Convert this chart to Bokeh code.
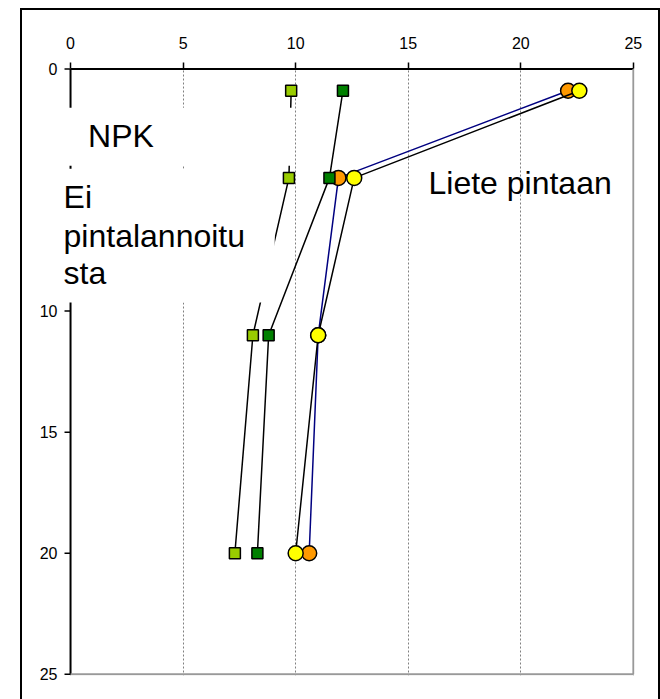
from bokeh.plotting import figure
from bokeh.models import Range1d, FixedTicker, BoxAnnotation, Label
from bokeh.embed import file_html
from bokeh.resources import INLINE

# Sampling depths (cm) and measured values for the four treatments
depth = [0.9, 4.5, 11, 20]
npk = [9.8, 9.7, 8.1, 7.3]
ei_pintalannoitusta = [12.1, 11.5, 8.8, 8.3]
liete_a = [22.1, 11.9, 11.0, 10.6]
liete_b = [22.6, 12.6, 11.0, 10.0]
ticks = [0, 5, 10, 15, 20, 25]

FONT = "Liberation Sans"
lo, hi = ticks[0], ticks[-1]

p = figure(
    width=636, height=689,
    x_range=Range1d(-0.4456, 25.05), y_range=Range1d(25.05, -0.1),
    x_axis_location="above",
    output_backend="svg", toolbar_location=None,
    min_border_left=38, min_border_right=28,
    min_border_top=56, min_border_bottom=26,
    background_fill_color="white", border_fill_color="white",
)
# chart border (open at the bottom)
p.margin = (8, 0, 0, 20)
p.styles = {
    "border-left": "2px solid black",
    "border-top": "2px solid black",
    "border-right": "2px solid black",
    "box-sizing": "content-box",
}
p.outline_line_color = None

# top axis: ticks and labels from Bokeh, its line drawn at depth 0 below
p.xaxis.ticker = FixedTicker(ticks=ticks)
p.xaxis.axis_line_color = None
p.xaxis.major_tick_line_color = "black"
p.xaxis.major_tick_line_width = 1.5
p.xaxis.major_tick_in = 2
p.xaxis.major_tick_out = 4
p.xaxis.minor_tick_line_color = None
p.xaxis.major_label_standoff = 14
p.xaxis.major_label_text_font = FONT
p.xaxis.major_label_text_font_size = "16px"
p.xaxis.major_label_text_color = "black"

# left axis: labels only (line and ticks drawn as glyphs so the text boxes can cover them)
p.yaxis.ticker = FixedTicker(ticks=ticks)
p.yaxis.axis_line_color = None
p.yaxis.major_tick_line_color = None
p.yaxis.minor_tick_line_color = None
p.yaxis.major_tick_in = 0
p.yaxis.major_tick_out = 0
p.yaxis.major_label_standoff = 3
p.yaxis.major_label_overrides = {5: ""}
p.yaxis.major_label_text_font = FONT
p.yaxis.major_label_text_font_size = "16px"
p.yaxis.major_label_text_color = "black"

p.ygrid.visible = False
p.xgrid.grid_line_color = "#808080"
p.xgrid.grid_line_dash = "2 2"
p.xgrid.grid_line_width = 1

# plot-area edges: black axes top/left, grey right/bottom
p.segment(x0=[lo, lo], y0=[lo, lo], x1=[hi, lo], y1=[lo, hi],
          line_color="black", line_width=2)
p.segment(x0=[hi, lo], y0=[lo, hi], x1=[hi, hi], y1=[hi, hi],
          line_color="#999999", line_width=2)
tick_len = 6 / 22.44
p.segment(x0=[lo - tick_len] * len(ticks), y0=ticks, x1=[lo] * len(ticks), y1=ticks,
          line_color="black", line_width=1.5)

# series: line + markers, drawn in this order
p.line(liete_a, depth, line_color="#000080", line_width=1.5)
p.scatter(liete_a, depth, marker="circle", size=15, fill_color="#FF9900",
          line_color="black", line_width=1.5)
p.line(liete_b, depth, line_color="black", line_width=1.5)
p.scatter(liete_b, depth, marker="circle", size=15, fill_color="#FFFF00",
          line_color="black", line_width=1.5)
p.line(npk, depth, line_color="black", line_width=1.5)
p.scatter(npk, depth, marker="square", size=11, fill_color="#99CC00",
          line_color="black", line_width=1.5)
p.line(ei_pintalannoitusta, depth, line_color="black", line_width=1.5)
p.scatter(ei_pintalannoitusta, depth, marker="square", size=11, fill_color="#008000",
          line_color="black", line_width=1.5)

# white text boxes behind the treatment labels
p.add_layout(BoxAnnotation(left=-0.33, right=9.9, top=1.6, bottom=4.0,
                           fill_color="white", fill_alpha=1, line_color=None))
p.add_layout(BoxAnnotation(left=-0.5, right=9.07, top=4.12, bottom=9.65,
                           fill_color="white", fill_alpha=1, line_color=None))

def add_text(x, y, txt):
    p.add_layout(Label(x=x, y=y, text=txt, text_font=FONT, text_font_size="32px",
                       text_color="black", text_align="left",
                       text_baseline="middle"))

add_text(0.78, 2.78, "NPK")
add_text(-0.31, 5.27, "Ei")
add_text(-0.31, 6.9, "pintalannoitu")
add_text(-0.31, 8.41, "sta")
add_text(15.9, 4.72, "Liete pintaan")

open("out.html", "w").write(file_html(p, INLINE))
